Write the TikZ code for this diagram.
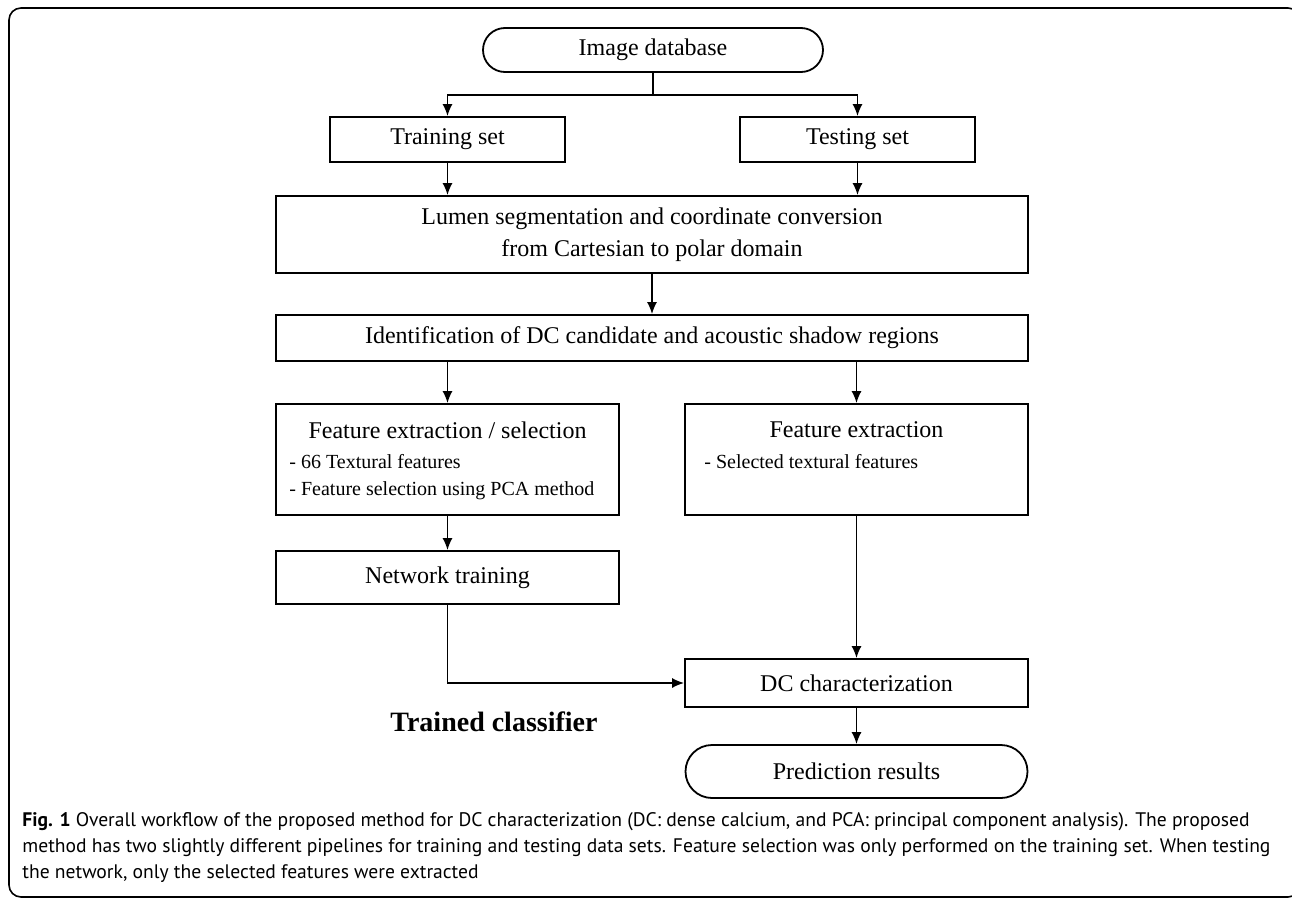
\documentclass[tikz,border=0pt]{standalone}
\usepackage{fontspec}
\setmainfont{Liberation Serif}
\newfontfamily\capfont{PT Sans}
\usetikzlibrary{arrows.meta,shapes.misc}
\tikzset{
  box/.style={draw, line width=0.9pt, inner sep=0pt, font=\fontsize{12}{16}\selectfont, align=center},
  pill/.style={box, rounded rectangle},
  flow/.style={-{Latex[length=6pt,width=5pt]}, line width=0.75pt},
  wire/.style={line width=0.75pt},
  lbl/.style={font=\fontsize{12}{16}\selectfont, inner sep=0pt},
  item/.style={font=\fontsize{10}{13.5}\selectfont, inner sep=0pt, align=left, anchor=north west},
  note/.style={font=\capfont\fontsize{9.8}{13}\selectfont, inner sep=0pt, align=left, anchor=base west},
}

\begin{document}
\begin{tikzpicture}[x=0.5pt, y=-0.5pt]
  \useasboundingbox (0,0) rectangle (1292,900);
  \draw[line width=0.8pt, rounded corners=6pt] (9,8) rectangle (1300,897);

  % flow boxes
  \node[pill, minimum width=170pt, minimum height=22pt] (db) at (653,50) {Image database};
  \node[box, minimum width=117.5pt, minimum height=22.5pt] (train) at (447.5,139.5) {Training set};
  \node[box, minimum width=117.5pt, minimum height=22.5pt] (test) at (857.5,139.5) {Testing set};
  \node[box, minimum width=376pt, minimum height=38.5pt] (lumen) at (652,234.5)
    {Lumen segmentation and coordinate conversion\\from Cartesian to polar domain};
  \node[box, minimum width=376pt, minimum height=23pt] (ident) at (652,338)
    {Identification of DC candidate and acoustic shadow regions};
  \node[box, minimum width=171.5pt, minimum height=55.5pt] (fsel) at (447.5,459.5) {};
  \node[box, minimum width=171.5pt, minimum height=55.5pt] (fext) at (856.5,459.5) {};
  \node[box, minimum width=171.5pt, minimum height=26.5pt] (net) at (447.5,577.5) {Network training};
  \node[box, minimum width=171.5pt, minimum height=24pt] (dcc) at (856.5,683) {DC characterization};
  \node[pill, minimum width=171pt, minimum height=26.5pt] (pred) at (856.5,771.5) {Prediction results};

  % texts inside the two feature boxes
  \node[lbl] (fselh) at (447.5,430) {Feature extraction / selection};
  \node[item] (fsell) at (289,454) {- 66 Textural features\\- Feature selection using PCA method};
  \node[lbl] (fexth) at (856.5,430) {Feature extraction};
  \node[item] (fextl) at (704,454) {- Selected textural features};

  \node[font=\bfseries\fontsize{14}{16}\selectfont, inner sep=0pt] (cls) at (494,722) {Trained classifier};

  % connectors
  \coordinate (split) at (653,95);
  \draw[wire] (db.south) -- (split);
  \draw[flow] (split) -| (train.north);
  \draw[flow] (split) -| (test.north);
  \draw[flow] (train.south) -- (train.south |- lumen.north);
  \draw[flow] (test.south) -- (test.south |- lumen.north);
  \draw[flow] (lumen.south) -- (ident.north);
  \draw[flow] (ident.south -| fsel.north) -- (fsel.north);
  \draw[flow] (ident.south -| fext.north) -- (fext.north);
  \draw[flow] (fsel.south) -- (net.north);
  \draw[flow] (fext.south) -- (dcc.north);
  \draw[flow] (net.south) |- (dcc.west);
  \draw[flow] (dcc.south) -- (pred.north);

  \node[note] (cap) at (22,878) {\textbf{Fig. 1} Overall workflow of the proposed method for DC characterization (DC: dense calcium, and PCA: principal component analysis). The proposed\\
    method has two slightly different pipelines for training and testing data sets. Feature selection was only performed on the training set. When testing\\
    the network, only the selected features were extracted};
\end{tikzpicture}
\end{document}
